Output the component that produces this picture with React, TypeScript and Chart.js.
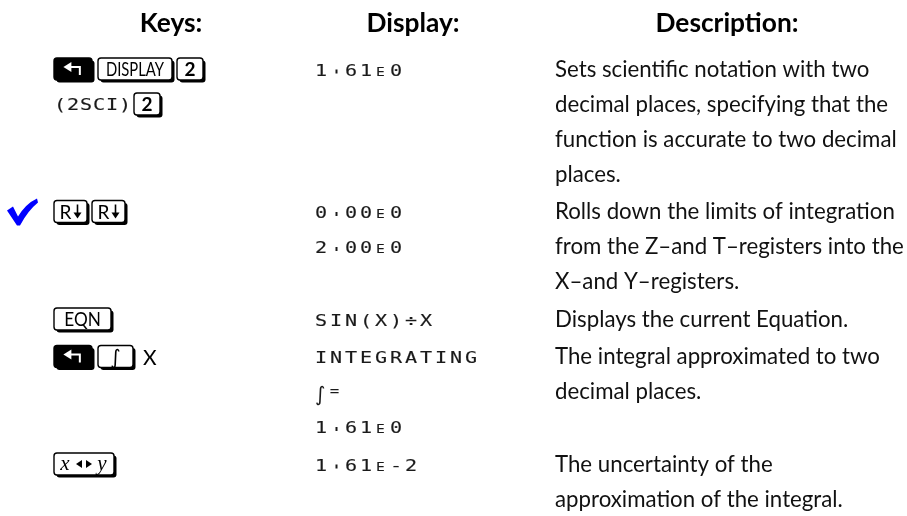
import React, { useEffect, useRef } from "react";
import { Chart, registerables } from "chart.js";

Chart.register(...registerables);

// ---- content ----
const headers = ["Keys:", "Display:", "Description:"];
const rowLineCounts = [4, 3, 1, 3, 2];
const descriptionLines = [
  [
    "Sets scientific notation with two",
    "decimal places, specifying that the",
    "function is accurate to two decimal",
    "places.",
  ],
  [
    "Rolls down the limits of integration",
    "from the Z\u2013and T\u2013registers into the",
    "X\u2013and Y\u2013registers.",
  ],
  ["Displays the current Equation."],
  ["The integral approximated to two", "decimal places.", ""],
  ["The uncertainty of the", "approximation of the integral."],
];
const displayLines = [
  ["1.61E0"],
  ["0.00E0", "2.00E0"],
  ["SIN(X)\u00F7X"],
  ["INTEGRATING", "\u222B =", "1.61E0"],
  ["1.61E-2"],
];
// tokens: "shift" = shift key, "key:..." = key cap, "lcd:..." = display-font text, "text:..." = plain text
const keyLines = [
  [["shift", "key:DISPLAY", "key:2"], ["lcd:(2SCI)", "key:2"]],
  [["key:R\u2193", "key:R\u2193"]],
  [["key:EQN"]],
  [["shift", "key:\u222B", "text:X"]],
  [["key:x\u2194y"]],
];
const checkedRows = [1];

// ---- styles ----
const W = 907;
const H = 516;
const SANS = "Lato, 'Noto Sans', sans-serif";
const LCD = "'DejaVu Sans Mono', monospace";
const colKeysX = 54;
const colDisplayX = 315;
const colDescX = 555;
const headerCenters = [171, 413, 727];
const headerBaseline = 32;
const firstLineCenter = 70;
const linePitch = 35;
const rowGap = 2.5;
const descWidest = 349;
const headerWidest = 143;
const keyH = 22;
const keyGap = 5;
const lcdPitch = 15;
const keyWidths: Record<string, number> = {
  shift: 38,
  DISPLAY: 74,
  "2": 26,
  "R\u2193": 33,
  EQN: 57,
  "\u222B": 35,
  "x\u2194y": 60,
};

function roundRect(ctx: CanvasRenderingContext2D, x: number, y: number, w: number, h: number, r: number) {
  ctx.beginPath();
  ctx.moveTo(x + r, y);
  ctx.lineTo(x + w - r, y);
  ctx.quadraticCurveTo(x + w, y, x + w, y + r);
  ctx.lineTo(x + w, y + h - r);
  ctx.quadraticCurveTo(x + w, y + h, x + w - r, y + h);
  ctx.lineTo(x + r, y + h);
  ctx.quadraticCurveTo(x, y + h, x, y + h - r);
  ctx.lineTo(x, y + r);
  ctx.quadraticCurveTo(x, y, x + r, y);
  ctx.closePath();
}

function drawKeyCap(ctx: CanvasRenderingContext2D, x: number, cy: number, w: number, dark: boolean) {
  const y = cy - keyH / 2;
  ctx.fillStyle = "#000";
  roundRect(ctx, x + 2.5, y + 2.5, w, keyH, 3);
  ctx.fill();
  roundRect(ctx, x, y, w, keyH, 3);
  ctx.fillStyle = dark ? "#000" : "#fff";
  ctx.fill();
  ctx.lineWidth = 1.4;
  ctx.strokeStyle = "#000";
  ctx.stroke();
}

function lcdGlyph(ctx: CanvasRenderingContext2D, ch: string, x: number, baseline: number, size: number) {
  ctx.save();
  ctx.translate(x, baseline);
  ctx.scale(1.22, 1);
  ctx.font = `${size}px ${LCD}`;
  ctx.fillText(ch, 0, 0);
  ctx.lineWidth = 0.15;
  ctx.strokeStyle = "#222";
  ctx.strokeText(ch, 0, 0);
  ctx.restore();
}

function drawLcdText(ctx: CanvasRenderingContext2D, text: string, x: number, baseline: number, pitch: number) {
  ctx.fillStyle = "#1a1a1a";
  ctx.textAlign = "left";
  ctx.textBaseline = "alphabetic";
  const chars = Array.from(text);
  let cx = x;
  chars.forEach((ch, i) => {
    const prev = i > 0 ? chars[i - 1] : "";
    if (ch === "E" && /[0-9]/.test(prev)) {
      lcdGlyph(ctx, ch, cx + 1, baseline, 12);
      cx += pitch;
    } else if (ch === ".") {
      ctx.fillRect(cx + pitch / 2 - 2, baseline - 6, 2, 4);
      cx += pitch;
    } else if (ch === "\u222B") {
      ctx.font = `20px 'DejaVu Sans', sans-serif`;
      ctx.fillText(ch, cx, baseline + 3);
      cx += 12;
    } else if (ch === " ") {
      cx += 2;
    } else if (ch === "=") {
      ctx.font = `19px ${SANS}`;
      ctx.fillText(ch, cx, baseline);
      cx += pitch;
    } else {
      lcdGlyph(ctx, ch, cx, baseline, 16.5);
      cx += pitch;
    }
  });
}

function drawKeysLine(ctx: CanvasRenderingContext2D, tokens: string[], x0: number, cy: number) {
  let x = x0;
  for (const tok of tokens) {
    if (tok === "shift") {
      const w = keyWidths.shift;
      drawKeyCap(ctx, x, cy, w, true);
      ctx.strokeStyle = "#fff";
      ctx.fillStyle = "#fff";
      ctx.lineWidth = 2;
      const ax = x + w * 0.3;
      const bx = x + w * 0.68;
      const ay = cy - 2;
      ctx.beginPath();
      ctx.moveTo(ax + 4, ay);
      ctx.lineTo(bx, ay);
      ctx.lineTo(bx, cy + 6);
      ctx.stroke();
      ctx.beginPath();
      ctx.moveTo(ax - 2, ay);
      ctx.lineTo(ax + 6, ay - 5);
      ctx.lineTo(ax + 6, ay + 5);
      ctx.closePath();
      ctx.fill();
      x += w + keyGap + 1;
    } else if (tok.startsWith("key:")) {
      const label = tok.slice(4);
      const w = keyWidths[label] ?? 30;
      drawKeyCap(ctx, x, cy, w, false);
      ctx.fillStyle = "#000";
      ctx.textAlign = "center";
      ctx.textBaseline = "alphabetic";
      const mid = x + w / 2;
      const base = cy + 7;
      if (label === "x\u2194y") {
        ctx.font = `italic 21px 'Liberation Serif', serif`;
        ctx.fillText("x", x + 11, base - 1);
        ctx.fillText("y", x + w - 12, base - 1);
        ctx.beginPath();
        ctx.moveTo(mid - 8, cy);
        ctx.lineTo(mid - 2, cy - 4);
        ctx.lineTo(mid - 2, cy + 4);
        ctx.closePath();
        ctx.moveTo(mid + 8, cy);
        ctx.lineTo(mid + 2, cy - 4);
        ctx.lineTo(mid + 2, cy + 4);
        ctx.closePath();
        ctx.fill();
      } else if (label === "R\u2193") {
        ctx.font = `19px ${SANS}`;
        ctx.fillText("R", mid - 5, base);
        ctx.lineWidth = 1.6;
        ctx.strokeStyle = "#000";
        ctx.beginPath();
        ctx.moveTo(mid + 7, cy - 7);
        ctx.lineTo(mid + 7, cy + 3);
        ctx.stroke();
        ctx.beginPath();
        ctx.moveTo(mid + 3, cy + 1);
        ctx.lineTo(mid + 11, cy + 1);
        ctx.lineTo(mid + 7, cy + 7);
        ctx.closePath();
        ctx.fill();
      } else if (label === "\u222B") {
        ctx.font = `20px 'DejaVu Sans', sans-serif`;
        ctx.fillText(label, mid, base);
      } else if (label === "2") {
        ctx.font = `bold 19px ${SANS}`;
        ctx.fillText(label, mid, base);
      } else {
        ctx.save();
        ctx.translate(mid, base);
        ctx.scale(label === "DISPLAY" ? 0.74 : 0.86, 1);
        ctx.font = `20px ${SANS}`;
        ctx.fillText(label, 0, 0);
        ctx.restore();
      }
      x += w + keyGap;
    } else if (tok.startsWith("lcd:")) {
      const t = tok.slice(4);
      drawLcdText(ctx, t, x, cy + 6, 13);
      x += t.length * 13 + 2;
    } else if (tok.startsWith("text:")) {
      const t = tok.slice(5);
      ctx.font = `21px ${SANS}`;
      ctx.fillStyle = "#000";
      ctx.textAlign = "left";
      ctx.textBaseline = "alphabetic";
      ctx.fillText(t, x + 5, cy + 8);
      x += ctx.measureText(t).width + 8;
    }
  }
}

function drawCheck(ctx: CanvasRenderingContext2D, x: number, cy: number) {
  ctx.fillStyle = "#0000ff";
  ctx.beginPath();
  ctx.moveTo(x + 1, cy - 2);
  ctx.lineTo(x + 7, cy - 6);
  ctx.lineTo(x + 12, cy + 4);
  ctx.quadraticCurveTo(x + 20, cy - 9, x + 31, cy - 14);
  ctx.lineTo(x + 32, cy - 10);
  ctx.quadraticCurveTo(x + 22, cy - 2, x + 14, cy + 13);
  ctx.lineTo(x + 11, cy + 13);
  ctx.closePath();
  ctx.fill();
}

const tablePlugin = {
  id: "tableText",
  afterDraw(chart: any) {
    const ctx: CanvasRenderingContext2D = chart.ctx;
    const xs = chart.scales.x;
    const ys = chart.scales.y;
    const X = (v: number) => xs.getPixelForValue(v);
    const Y = (v: number) => ys.getPixelForValue(v);

    ctx.save();
    ctx.fillStyle = "#fff";
    ctx.fillRect(0, 0, chart.width, chart.height);

    // headers
    ctx.font = `bold 100px ${SANS}`;
    const hs = (100 * headerWidest) / ctx.measureText(headers[2]).width;
    ctx.font = `bold ${hs}px ${SANS}`;
    ctx.fillStyle = "#000";
    ctx.textAlign = "center";
    ctx.textBaseline = "alphabetic";
    headers.forEach((h, i) => ctx.fillText(h, X(headerCenters[i]), Y(headerBaseline)));

    // description font size
    ctx.font = `100px ${SANS}`;
    let maxW = 0;
    descriptionLines.flat().forEach((l) => (maxW = Math.max(maxW, ctx.measureText(l).width)));
    const ds = (100 * descWidest) / maxW;

    let lineIndex = 0;
    rowLineCounts.forEach((count, r) => {
      const centerOf = (k: number) => firstLineCenter + (lineIndex + k) * linePitch + r * rowGap;
      ctx.font = `${ds}px ${SANS}`;
      ctx.fillStyle = "#111";
      ctx.textAlign = "left";
      ctx.textBaseline = "alphabetic";
      descriptionLines[r].forEach((l, k) => ctx.fillText(l, X(colDescX), Y(centerOf(k) + 6.5)));
      displayLines[r].forEach((l, k) => drawLcdText(ctx, l, X(colDisplayX), Y(centerOf(k) + 5.5), lcdPitch));
      keyLines[r].forEach((tokens, k) => drawKeysLine(ctx, tokens, X(colKeysX), Y(centerOf(k) - 1)));
      if (checkedRows.includes(r)) drawCheck(ctx, X(6), Y(centerOf(0)));
      lineIndex += count;
    });
    ctx.restore();
  },
};

export default function App() {
  const ref = useRef<HTMLCanvasElement | null>(null);
  useEffect(() => {
    if (!ref.current) return;
    const chart = new Chart(ref.current, {
      type: "scatter",
      data: { datasets: [] },
      options: {
        animation: false,
        responsive: false,
        devicePixelRatio: 1,
        layout: { padding: 0 },
        plugins: { legend: { display: false }, tooltip: { enabled: false } },
        scales: {
          x: { type: "linear", min: 0, max: W, display: false },
          y: { type: "linear", min: 0, max: H, reverse: true, display: false },
        },
      },
      plugins: [tablePlugin],
    });
    return () => chart.destroy();
  }, []);
  return (
    <div style={{ position: "fixed", left: 0, top: 0, width: W, height: H, background: "#fff" }}>
      <canvas ref={ref} width={W} height={H} style={{ display: "block", width: W, height: H }} />
    </div>
  );
}
